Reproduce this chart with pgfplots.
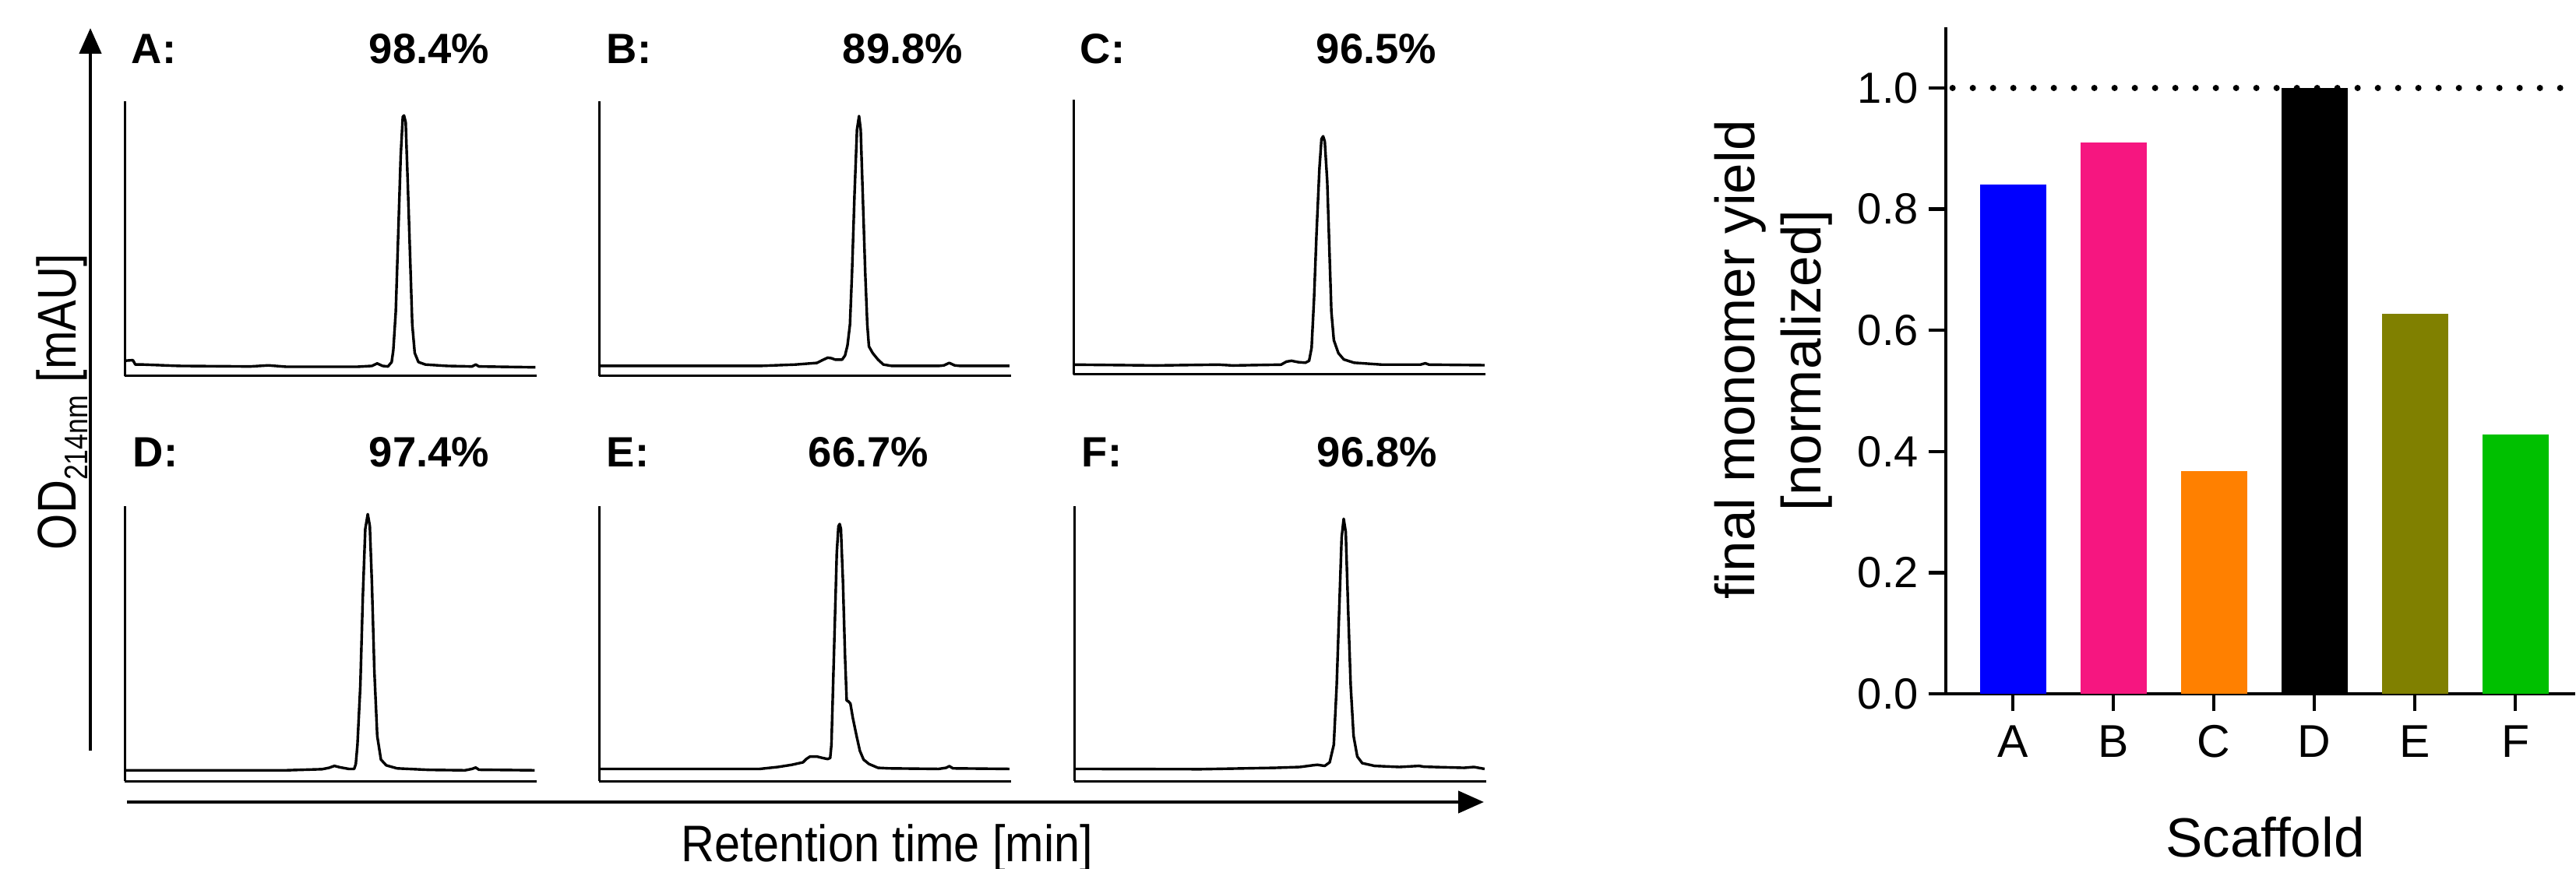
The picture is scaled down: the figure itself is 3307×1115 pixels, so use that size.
\documentclass[border=0pt]{standalone}
\usepackage{fontspec}
\setmainfont{Liberation Sans}
\usepackage{pgfplots}
\pgfplotsset{compat=1.18}
\usetikzlibrary{arrows.meta}
\definecolor{barA}{RGB}{0,0,255}
\definecolor{barB}{RGB}{246,22,128}
\definecolor{barC}{RGB}{255,128,0}
\definecolor{barD}{RGB}{0,0,0}
\definecolor{barE}{RGB}{128,128,0}
\definecolor{barF}{RGB}{0,192,0}
\newcommand{\lblfont}{\fontsize{13.6}{16}\selectfont\bfseries}
\pgfplotsset{
  chrom/.style={scale only axis, width=132.25pt, height=88.25pt,
    xmin=0, xmax=10, ymin=0, ymax=100,
    axis x line*=bottom, axis y line*=left,
    xtick=\empty, ytick=\empty,
    axis line style={line width=0.75pt, black},
    anchor=south west},
  trace/.style={black, line width=0.85pt, line join=round, mark=none}
}
\begin{document}
\begin{tikzpicture}[x=0.25pt, y=0.25pt]
\path[use as bounding box] (0,0) rectangle (3307,1115);

% ---------- Panel A ----------
\begin{axis}[chrom, at={(40pt,158pt)}]
\addplot[trace] coordinates {(0.01,5.6) (0.2,5.8) (0.26,4.2) (0.45,4.2) (1.32,3.7) (3.05,3.5) (3.49,3.9) (3.92,3.4) (5.65,3.4) (6.0,3.7) (6.13,4.6) (6.26,3.7) (6.39,3.5) (6.48,5.1) (6.52,9.4) (6.58,23.5) (6.64,51.8) (6.70,80.2) (6.75,94.3) (6.78,94.8) (6.82,92.4) (6.87,70.7) (6.93,42.4) (6.98,18.8) (7.04,8.4) (7.13,5.1) (7.30,4.2) (7.82,3.7) (8.43,3.5) (8.52,4.2) (8.60,3.5) (9.97,3.2)};
\end{axis}
% ---------- Panel B ----------
\begin{axis}[chrom, at={(192.25pt,158pt)}]
\addplot[trace] coordinates {(0,3.7) (1.56,3.7) (3.9,3.7) (4.77,4.2) (5.29,4.8) (5.42,5.8) (5.55,6.7) (5.64,6.5) (5.73,6.0) (5.90,6.0) (5.97,7.5) (6.03,11.2) (6.09,18.8) (6.14,37.7) (6.20,66.0) (6.26,89.6) (6.31,94.6) (6.35,89.6) (6.40,66.0) (6.46,37.7) (6.51,18.8) (6.55,10.8) (6.64,8.4) (6.77,6.0) (6.90,4.2) (7.11,3.7) (8.24,3.7) (8.37,3.9) (8.50,4.8) (8.63,3.9) (8.77,3.7) (9.96,3.7)};
\end{axis}
% ---------- Panel C ----------
\begin{axis}[chrom, at={(344.5pt,158.5pt)}]
\addplot[trace] coordinates {(0,3.6) (2.0,3.3) (3.52,3.6) (3.86,3.3) (5.04,3.6) (5.17,4.7) (5.29,5.0) (5.46,4.5) (5.63,4.3) (5.72,5.0) (5.78,9.7) (5.84,27.7) (5.90,51.3) (5.97,74.9) (6.02,85.7) (6.06,86.7) (6.10,84.8) (6.16,70.2) (6.21,46.5) (6.26,22.9) (6.32,12.5) (6.43,7.8) (6.56,5.5) (6.81,4.3) (7.49,3.6) (8.42,3.6) (8.54,4.1) (8.63,3.6) (9.98,3.4)};
\end{axis}
% ---------- Panel D ----------
\begin{axis}[chrom, at={(40pt,28pt)}]
\addplot[trace] coordinates {(0.01,3.9) (3.92,3.9) (4.79,4.3) (4.96,4.8) (5.09,5.5) (5.22,5.0) (5.44,4.4) (5.57,4.4) (5.61,6.2) (5.65,13.2) (5.72,34.7) (5.78,66.9) (5.84,91.7) (5.90,97.1) (5.95,92.8) (6.00,72.3) (6.06,40.1) (6.13,16.4) (6.22,7.8) (6.35,5.7) (6.61,4.6) (7.39,4.05) (8.26,3.9) (8.43,4.4) (8.52,4.9) (8.60,4.1) (9.95,3.9)};
\end{axis}
% ---------- Panel E ----------
\begin{axis}[chrom, at={(192.25pt,28pt)}]
\addplot[trace] coordinates {(0,4.4) (3.90,4.4) (4.34,5.1) (4.68,5.9) (4.95,6.8) (5.03,8.0) (5.12,8.9) (5.29,8.9) (5.42,8.4) (5.55,8.0) (5.61,8.4) (5.64,13.2) (5.68,34.7) (5.73,61.6) (5.77,83.1) (5.81,92.7) (5.84,93.5) (5.87,91.7) (5.92,72.3) (5.97,45.4) (6.01,29.3) (6.05,29.0) (6.10,28.2) (6.16,22.9) (6.25,16.4) (6.33,11.0) (6.42,7.8) (6.55,6.2) (6.77,4.8) (7.03,4.6) (8.24,4.4) (8.42,4.8) (8.50,5.4) (8.59,4.6) (9.96,4.4)};
\end{axis}
% ---------- Panel F ----------
\begin{axis}[chrom, at={(344.75pt,28pt)}]
\addplot[trace] coordinates {(0,4.4) (3.07,4.3) (4.88,4.8) (5.48,5.1) (5.78,5.7) (5.90,5.9) (6.08,5.5) (6.20,6.8) (6.30,13.2) (6.37,34.7) (6.43,61.6) (6.49,88.5) (6.54,95.4) (6.59,90.6) (6.65,61.6) (6.71,34.7) (6.78,16.4) (6.87,8.9) (6.99,6.5) (7.29,5.5) (7.89,5.1) (8.37,5.5) (8.49,5.2) (9.46,4.8) (9.70,5.1) (9.96,4.4)};
\end{axis}

% panel labels
\foreach \px/\py/\t in {168/1033/A:, 778/1033/B:, 1386/1033/C:, 170/515/D:, 778/515/E:, 1388/515/F:}
  \node[anchor=base west, inner sep=0pt, font=\lblfont] at (\px,\py) {\t};
\foreach \px/\py/\t in {551/1033/98.4, 1159/1033/89.8, 1767/1033/96.5, 551/515/97.4, 1115/515/66.7, 1768/515/96.8}
  \node[anchor=base, inner sep=0pt, font=\lblfont] at (\px,\py) {\t\%};

% big arrows
\draw[line width=1.15pt, -{Triangle[length=8.25pt,width=7pt]}] (116,151) -- (116,1079);
\draw[line width=1.15pt, -{Triangle[length=8.25pt,width=7pt]}] (163,85) -- (1905,85);
\node[rotate=90, anchor=base, inner sep=0pt, font=\fontsize{17.5}{20}\selectfont] at (97,599)
  {\scalebox{0.85}[1]{OD\raisebox{-0.22em}{\fontsize{10.5}{12}\selectfont 214nm} [mAU]}};
\node[anchor=base, inner sep=0pt, font=\fontsize{16.5}{19}\selectfont] at (1139,9)
  {\scalebox{0.9}[1]{Retention time [min]}};

% ---------- Bar chart ----------
\begin{axis}[at={(624.5pt,56pt)}, anchor=south west, scale only axis,
  width=202.1pt, height=213.95pt,
  xmin=-0.667, xmax=5.6, ymin=0, ymax=1.1,
  axis x line*=bottom, axis y line*=left,
  axis line style={line width=1.1pt, black},
  x axis line style={shorten <=-5.6pt},
  xtick={0,1,2,3,4,5}, xticklabels={A,B,C,D,E,F},
  ytick={0,0.2,0.4,0.6,0.8,1.0},
  tick align=outside, major tick length=5.6pt,
  tick style={line width=1.1pt, black},
  /pgf/number format/assume math mode=true,
  yticklabel style={/pgf/number format/fixed, /pgf/number format/fixed zerofill, /pgf/number format/precision=1, font=\fontsize{14}{16}\selectfont, inner sep=3pt},
  xticklabel style={font=\fontsize{14.75}{17}\selectfont, yshift=-1pt},
  clip=false]
\addplot[black, line width=2pt, line cap=round, dash pattern=on 0pt off 6.5pt] coordinates {(-0.6,1) (5.6,1)};
\addplot[ybar, bar width=21.25pt, bar shift=0pt, fill=barA, draw=none] coordinates {(0,0.841)};
\addplot[ybar, bar width=21.25pt, bar shift=0pt, fill=barB, draw=none] coordinates {(1,0.910)};
\addplot[ybar, bar width=21.25pt, bar shift=0pt, fill=barC, draw=none] coordinates {(2,0.368)};
\addplot[ybar, bar width=21.25pt, bar shift=0pt, fill=barD, draw=none] coordinates {(3,1.000)};
\addplot[ybar, bar width=21.25pt, bar shift=0pt, fill=barE, draw=none] coordinates {(4,0.627)};
\addplot[ybar, bar width=21.25pt, bar shift=0pt, fill=barF, draw=none] coordinates {(5,0.428)};
\end{axis}
\node[rotate=90, anchor=base, inner sep=0pt, font=\fontsize{17.75}{21}\selectfont] at (2252,653) {final monomer yield};
\node[rotate=90, anchor=base, inner sep=0pt, font=\fontsize{17.75}{21}\selectfont] at (2337,652) {[normalized]};
\node[anchor=base, inner sep=0pt, font=\fontsize{17.75}{21}\selectfont] at (2908,15) {Scaffold};
\end{tikzpicture}
\end{document}
